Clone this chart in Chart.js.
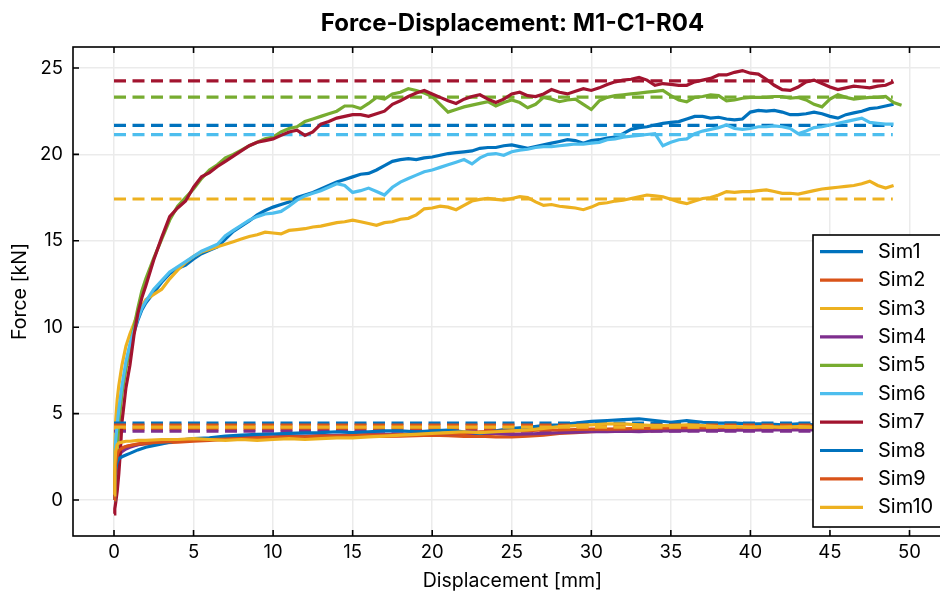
<!DOCTYPE html>
<html>
<head>
<meta charset="utf-8">
<title>Force-Displacement: M1-C1-R04</title>
<script src="https://cdn.jsdelivr.net/npm/chart.js@4.4.1/dist/chart.umd.min.js"></script>
<style>
  html, body { margin: 0; padding: 0; background: #fff; overflow: hidden; }
  #wrap { position: relative; width: 955px; height: 591px; }
</style>
</head>
<body>
<div id="wrap"><canvas id="fd" width="955" height="591"></canvas></div>
<script>
// displacement samples [mm] for the five high-load runs
const hiX = [0, 0.05, 0.1, 0.2, 0.3, 0.4, 0.5, 0.75, 1, 1.25, 1.5, 1.75, 2, 2.5, 3, 3.5, 4, 4.5,
  5, 5.5, 6, 6.5, 7, 7.5, 8, 8.5, 9, 9.5, 10, 10.5, 11, 11.5, 12, 12.5, 13, 13.5, 14, 14.5,
  15, 15.5, 16, 16.5, 17, 17.5, 18, 18.5, 19, 19.5, 20, 20.5, 21, 21.5, 22, 22.5, 23, 23.5, 24, 24.5,
  25, 25.5, 26, 26.5, 27, 27.5, 28, 28.5, 29, 29.5, 30, 30.5, 31, 31.5, 32, 32.5, 33, 33.5, 34, 34.5,
  35, 35.5, 36, 36.5, 37, 37.5, 38, 38.5, 39, 39.5, 40, 40.5, 41, 41.5, 42, 42.5, 43, 43.5, 44, 44.5,
  45, 45.5, 46, 46.5, 47, 47.5, 48, 48.5, 49, 49.5];

// displacement samples [mm] for the five low-load runs
const loX = [0, 0.05, 0.1, 0.2, 0.3, 0.5, 0.75, 1, 1.5, 2,
  3, 4, 5, 6, 7, 8, 9, 10, 11, 12, 13, 14, 15, 16, 17, 18, 19, 20, 21, 22,
  23, 24, 25, 26, 27, 28, 29, 30, 31, 32, 33, 34, 35, 36, 37, 38, 39, 40, 41, 42,
  43, 44, 45, 46, 47, 48, 49];

// force [kN]
const sim1 = [0, 1.5, 3.0, 3.8, 4.8, 5.6, 6.3, 7.8, 8.9, 9.7, 10.4, 11.0, 11.4, 12.0, 12.6, 13.1, 13.4, 13.6,
  13.95, 14.25, 14.45, 14.65, 15.1, 15.55, 15.85, 16.15, 16.5, 16.75,
  16.95, 17.1, 17.25, 17.5, 17.65, 17.8, 18.0, 18.2, 18.4, 18.55,
  18.7, 18.85, 18.9, 19.1, 19.35, 19.6, 19.7, 19.75, 19.7, 19.8,
  19.85, 19.95, 20.05, 20.1, 20.15, 20.2, 20.35, 20.4, 20.4, 20.5,
  20.55, 20.45, 20.35, 20.45, 20.55, 20.65, 20.75, 20.85, 20.8, 20.65,
  20.8, 20.85, 20.95, 21.0, 21.2, 21.45, 21.55, 21.6, 21.7, 21.8,
  21.85, 21.9, 22.05, 22.2, 22.2, 22.1, 22.15, 22.05, 22.0, 22.05,
  22.45, 22.55, 22.5, 22.55, 22.45, 22.3, 22.3, 22.35, 22.45, 22.35,
  22.2, 22.1, 22.3, 22.4, 22.5, 22.65, 22.7, 22.8, 22.9, null];

const sim3 = [0.5, 3.0, 4.5, 5.8, 6.6, 7.2, 7.8, 8.9, 9.6, 10.2, 10.8, 11.2, 11.6, 11.9, 12.2, 12.8, 13.3, 13.75,
  14.1, 14.35, 14.5, 14.65, 14.8, 14.95, 15.1, 15.25, 15.35, 15.5,
  15.45, 15.4, 15.6, 15.65, 15.7, 15.8, 15.85, 15.95, 16.05, 16.1,
  16.2, 16.1, 16.0, 15.9, 16.05, 16.1, 16.25, 16.3, 16.5, 16.85,
  16.9, 17.0, 16.95, 16.8, 17.05, 17.3, 17.4, 17.45, 17.4, 17.35,
  17.45, 17.55, 17.5, 17.25, 17.05, 17.1, 17.0, 16.95, 16.9, 16.8,
  16.95, 17.15, 17.2, 17.3, 17.35, 17.45, 17.55, 17.65, 17.6, 17.55,
  17.4, 17.25, 17.15, 17.3, 17.45, 17.5, 17.65, 17.85, 17.8, 17.85,
  17.85, 17.9, 17.95, 17.85, 17.75, 17.75, 17.7, 17.8, 17.9, 18.0,
  18.05, 18.1, 18.15, 18.2, 18.3, 18.45, 18.2, 18.05, 18.2, null];

const sim5 = [0, 0.5, 1.5, 3.0, 4.2, 5.3, 6.2, 7.6, 8.8, 10.0, 11.1, 12.1, 12.8, 14.0, 15.1, 16.2, 17.0, 17.5,
  18.0, 18.6, 19.1, 19.4, 19.8, 20.0, 20.25, 20.5, 20.7, 20.9,
  21.0, 21.3, 21.5, 21.6, 21.9, 22.05, 22.2, 22.35, 22.5, 22.8,
  22.8, 22.65, 22.95, 23.3, 23.2, 23.5, 23.6, 23.8, 23.7, 23.55,
  23.35, 22.9, 22.45, 22.6, 22.75, 22.85, 22.95, 23.05, 22.8, 23.0,
  23.15, 23.0, 22.7, 22.9, 23.3, 23.2, 23.05, 23.15, 23.2, 22.9,
  22.6, 23.1, 23.3, 23.4, 23.45, 23.5, 23.55, 23.6, 23.65, 23.7,
  23.4, 23.15, 23.05, 23.3, 23.35, 23.45, 23.4, 23.1, 23.15, 23.25,
  23.3, 23.3, 23.3, 23.35, 23.35, 23.25, 23.3, 23.15, 22.9, 22.75,
  23.2, 23.45, 23.3, 23.2, 23.25, 23.3, 23.3, 23.35, 23.0, 22.85];

const sim6 = [0.3, 2.2, 3.4, 4.4, 5.2, 5.9, 6.6, 8.0, 9.0, 9.8, 10.5, 11.1, 11.5, 12.2, 12.7, 13.2, 13.5, 13.8,
  14.1, 14.4, 14.6, 14.8, 15.3, 15.6, 15.9, 16.2, 16.4, 16.55,
  16.6, 16.7, 17.0, 17.35, 17.6, 17.75, 17.9, 18.1, 18.3, 18.2,
  17.8, 17.9, 18.05, 17.85, 17.65, 18.1, 18.4, 18.6, 18.8, 19.0,
  19.1, 19.25, 19.4, 19.55, 19.7, 19.45, 19.8, 20.0, 20.05, 19.95,
  20.15, 20.25, 20.3, 20.4, 20.45, 20.45, 20.5, 20.55, 20.6, 20.6,
  20.65, 20.7, 20.85, 20.9, 21.0, 21.05, 21.1, 21.15, 21.2, 20.5,
  20.7, 20.85, 20.9, 21.2, 21.35, 21.45, 21.55, 21.7, 21.5, 21.45,
  21.5, 21.6, 21.6, 21.65, 21.6, 21.5, 21.2, 21.35, 21.55, 21.6,
  21.7, 21.8, 21.9, 22.0, 22.1, 21.85, 21.8, 21.75, 21.75, null];

const sim7 = [-0.8, -0.5, -0.2, 0.5, 1.5, 2.8, 4.5, 6.5, 7.8, 9.5, 10.8, 11.7, 12.4, 13.9, 15.2, 16.4, 16.9, 17.3,
  18.1, 18.7, 18.95, 19.3, 19.6, 19.9, 20.2, 20.5, 20.7, 20.8,
  20.9, 21.1, 21.3, 21.4, 21.1, 21.3, 21.75, 21.9, 22.1, 22.2,
  22.3, 22.3, 22.2, 22.35, 22.5, 22.9, 23.1, 23.35, 23.55, 23.7,
  23.5, 23.3, 23.1, 22.95, 23.2, 23.35, 23.45, 23.2, 23.0, 23.2,
  23.5, 23.6, 23.4, 23.35, 23.5, 23.75, 23.6, 23.5, 23.65, 23.8,
  23.7, 23.85, 24.05, 24.2, 24.3, 24.35, 24.45, 24.3, 24.0, 24.1,
  24.05, 24.0, 24.0, 24.2, 24.3, 24.4, 24.6, 24.6, 24.75, 24.85,
  24.7, 24.65, 24.35, 24.0, 23.75, 23.7, 23.9, 24.2, 24.3, 24.1,
  23.9, 23.75, 23.85, 23.95, 23.9, 23.85, 23.95, 24.0, 24.2, null];

const sim2 = [0, 1.0, 1.8, 2.5, 2.8, 3.0, 3.1, 3.15, 3.2, 3.25,
  3.3, 3.35, 3.4, 3.45, 3.5, 3.5, 3.55, 3.6, 3.6, 3.62,
  3.65, 3.68, 3.7, 3.7, 3.68, 3.7, 3.72, 3.75, 3.72, 3.68,
  3.7, 3.65, 3.65, 3.7, 3.75, 3.85, 3.9, 3.95, 4.0, 4.0,
  3.98, 4.02, 4.05, 4.05, 4.08, 4.1, 4.1, 4.12, 4.1, 4.15,
  4.15, 4.18, 4.2, 4.2, 4.22, 4.25, 4.3];

const sim4 = [0, 0.6, 1.2, 2.2, 2.6, 2.8, 2.95, 3.05, 3.2, 3.3,
  3.4, 3.45, 3.5, 3.55, 3.6, 3.62, 3.65, 3.66, 3.7, 3.7,
  3.72, 3.74, 3.75, 3.78, 3.8, 3.8, 3.82, 3.83, 3.82, 3.85,
  3.85, 3.86, 3.8, 3.82, 3.85, 3.9, 3.92, 3.95, 3.95, 3.98,
  3.95, 4.0, 4.0, 4.02, 4.05, 4.03, 4.05, 4.04, 4.06, 4.05,
  4.05, 4.06, 4.05, 4.08, 4.07, 4.1, 4.1];

const sim8 = [0, 1.2, 1.8, 2.2, 2.4, 2.5, 2.6, 2.7, 2.9, 3.05,
  3.25, 3.45, 3.55, 3.6, 3.7, 3.75, 3.8, 3.82, 3.85, 3.88,
  3.9, 3.95, 3.9, 3.95, 4.0, 4.0, 3.95, 4.0, 4.05, 3.95,
  3.85, 4.0, 4.15, 4.2, 4.3, 4.35, 4.45, 4.55, 4.6, 4.65,
  4.7, 4.6, 4.5, 4.6, 4.5, 4.45, 4.45, 4.4, 4.4, 4.35,
  4.4, 4.35, 4.4, 4.35, 4.4, 4.45, 4.4];

const sim9 = [0, 1.4, 2.1, 2.6, 2.85, 3.0, 3.1, 3.15, 3.25, 3.3,
  3.35, 3.4, 3.45, 3.5, 3.52, 3.55, 3.6, 3.62, 3.65, 3.65,
  3.7, 3.7, 3.72, 3.75, 3.75, 3.78, 3.8, 3.8, 3.82, 3.85,
  3.95, 3.98, 4.0, 4.02, 4.05, 4.05, 4.08, 4.1, 4.1, 4.12,
  4.15, 4.15, 4.18, 4.2, 4.18, 4.2, 4.22, 4.2, 4.25, 4.22,
  4.25, 4.28, 4.3, 4.3, 4.32, 4.35, 4.35];

const sim10 = [0.3, 2.0, 2.8, 3.2, 3.3, 3.35, 3.4, 3.4, 3.45, 3.45,
  3.5, 3.5, 3.55, 3.5, 3.45, 3.5, 3.45, 3.5, 3.55, 3.5,
  3.55, 3.6, 3.6, 3.65, 3.7, 3.75, 3.8, 3.85, 3.9, 3.95,
  3.9, 3.95, 4.0, 4.05, 4.15, 4.25, 4.3, 4.35, 4.4, 4.4,
  4.35, 4.3, 4.3, 4.35, 4.3, 4.25, 4.25, 4.2, 4.25, 4.2,
  4.25, 4.2, 4.25, 4.3, 4.25, 4.3, 4.3];

// reference force level of each run, drawn dashed over the loaded range
const refLevel = [21.68, 4.12, 17.42, 3.98, 23.32, 21.14, 24.25, 4.45, 4.33, 4.22];
const refRange = [0, 48.95];

const simNames = ['Sim1', 'Sim2', 'Sim3', 'Sim4', 'Sim5', 'Sim6', 'Sim7', 'Sim8', 'Sim9', 'Sim10'];
const simX = [hiX, loX, hiX, loX, hiX, hiX, hiX, loX, loX, loX];
const simY = [sim1, sim2, sim3, sim4, sim5, sim6, sim7, sim8, sim9, sim10];
const colors = ['#0072BD', '#D95319', '#EDB120', '#7E2F8E', '#77AC30',
                '#4DBEEE', '#A2142F', '#0072BD', '#D95319', '#EDB120'];

const xTicks = [0, 5, 10, 15, 20, 25, 30, 35, 40, 45, 50];
const yTicks = [0, 5, 10, 15, 20, 25];

const FONT = 'Inter, "DejaVu Sans", sans-serif';
const LW = 3.2;

// solid curve then its dashed level, later runs on top
const datasets = [];
simNames.forEach((name, i) => {
  datasets.push({
    label: name,
    data: simX[i].map((x, k) => ({ x: x, y: simY[i][k] })),
    borderColor: colors[i],
    borderWidth: LW,
    pointRadius: 0,
    tension: 0,
    spanGaps: false,
    order: 100 - 2 * i
  });
  datasets.push({
    label: name + ' ref',
    isRef: true,
    data: refRange.map(x => ({ x: x, y: refLevel[i] })),
    borderColor: colors[i],
    borderWidth: LW,
    borderDash: [12, 6.5],
    pointRadius: 0,
    order: 99 - 2 * i
  });
});

// box, inward ticks, titles and legend
const framePlugin = {
  id: 'frame',
  afterDraw(chart) {
    const ctx = chart.ctx;
    const a = chart.chartArea;
    const xs = chart.scales.x;
    const ys = chart.scales.y;
    const tl = 6;

    ctx.save();
    ctx.strokeStyle = '#000';
    ctx.lineWidth = 1.6;
    ctx.strokeRect(a.left, a.top, a.right - a.left, a.bottom - a.top);
    ctx.beginPath();
    xTicks.forEach(v => {
      const px = xs.getPixelForValue(v);
      ctx.moveTo(px, a.bottom); ctx.lineTo(px, a.bottom - tl);
      ctx.moveTo(px, a.top); ctx.lineTo(px, a.top + tl);
    });
    yTicks.forEach(v => {
      const py = ys.getPixelForValue(v);
      ctx.moveTo(a.left, py); ctx.lineTo(a.left + tl, py);
      ctx.moveTo(a.right, py); ctx.lineTo(a.right - tl, py);
    });
    ctx.stroke();

    const cx = (a.left + a.right) / 2;
    ctx.fillStyle = '#000';
    ctx.textAlign = 'center';
    ctx.textBaseline = 'middle';
    ctx.font = 'bold 24px ' + FONT;
    ctx.fillText('Force-Displacement: M1-C1-R04', cx, 24);
    ctx.font = '19.5px ' + FONT;
    ctx.fillText('Displacement [mm]', cx, 581);
    ctx.save();
    ctx.translate(20, (a.top + a.bottom) / 2);
    ctx.rotate(-Math.PI / 2);
    ctx.fillText('Force [kN]', 0, 0);
    ctx.restore();

    // legend
    const lx = 813, ly = 235, lw = 136, lh = 292, rowH = 28.4;
    ctx.fillStyle = '#fff';
    ctx.fillRect(lx, ly, lw, lh);
    ctx.lineWidth = 1.6;
    ctx.strokeStyle = '#000';
    ctx.strokeRect(lx, ly, lw, lh);
    ctx.textAlign = 'left';
    ctx.font = '20px ' + FONT;
    chart.data.datasets.filter(d => !d.isRef).forEach((d, i) => {
      const yy = ly + 16.7 + i * rowH;
      ctx.strokeStyle = d.borderColor;
      ctx.lineWidth = LW;
      ctx.beginPath();
      ctx.moveTo(lx + 7, yy);
      ctx.lineTo(lx + 50, yy);
      ctx.stroke();
      ctx.fillStyle = '#000';
      ctx.fillText(d.label, lx + 65, yy);
    });
    ctx.restore();
  }
};

const pxPerMm = 15.91, pxPerKn = 17.28;

new Chart(document.getElementById('fd'), {
  type: 'line',
  data: { datasets: datasets },
  plugins: [framePlugin],
  options: {
    responsive: false,
    animation: false,
    devicePixelRatio: 1,
    layout: { padding: { top: 47, right: 3, left: 0, bottom: 0 } },
    plugins: { legend: { display: false }, title: { display: false }, tooltip: { enabled: false } },
    scales: {
      x: {
        type: 'linear',
        min: -41 / pxPerMm,
        max: 838 / pxPerMm,
        afterBuildTicks: s => { s.ticks = xTicks.map(v => ({ value: v })); },
        afterFit: s => { s.height = 55; },
        border: { display: false },
        grid: { color: '#ebebeb', lineWidth: 1.5, drawTicks: false },
        ticks: { padding: 5, color: '#000', maxRotation: 0, autoSkip: false,
                 font: { family: FONT, size: 18.5 } }
      },
      y: {
        type: 'linear',
        min: -36 / pxPerKn,
        max: 25 + 21 / pxPerKn,
        afterBuildTicks: s => { s.ticks = yTicks.map(v => ({ value: v })); },
        afterFit: s => { s.width = 73; },
        border: { display: false },
        grid: { color: '#ebebeb', lineWidth: 1.5, drawTicks: false },
        ticks: { padding: 10, color: '#000', font: { family: FONT, size: 18.5 } }
      }
    }
  }
});
</script>
</body>
</html>
